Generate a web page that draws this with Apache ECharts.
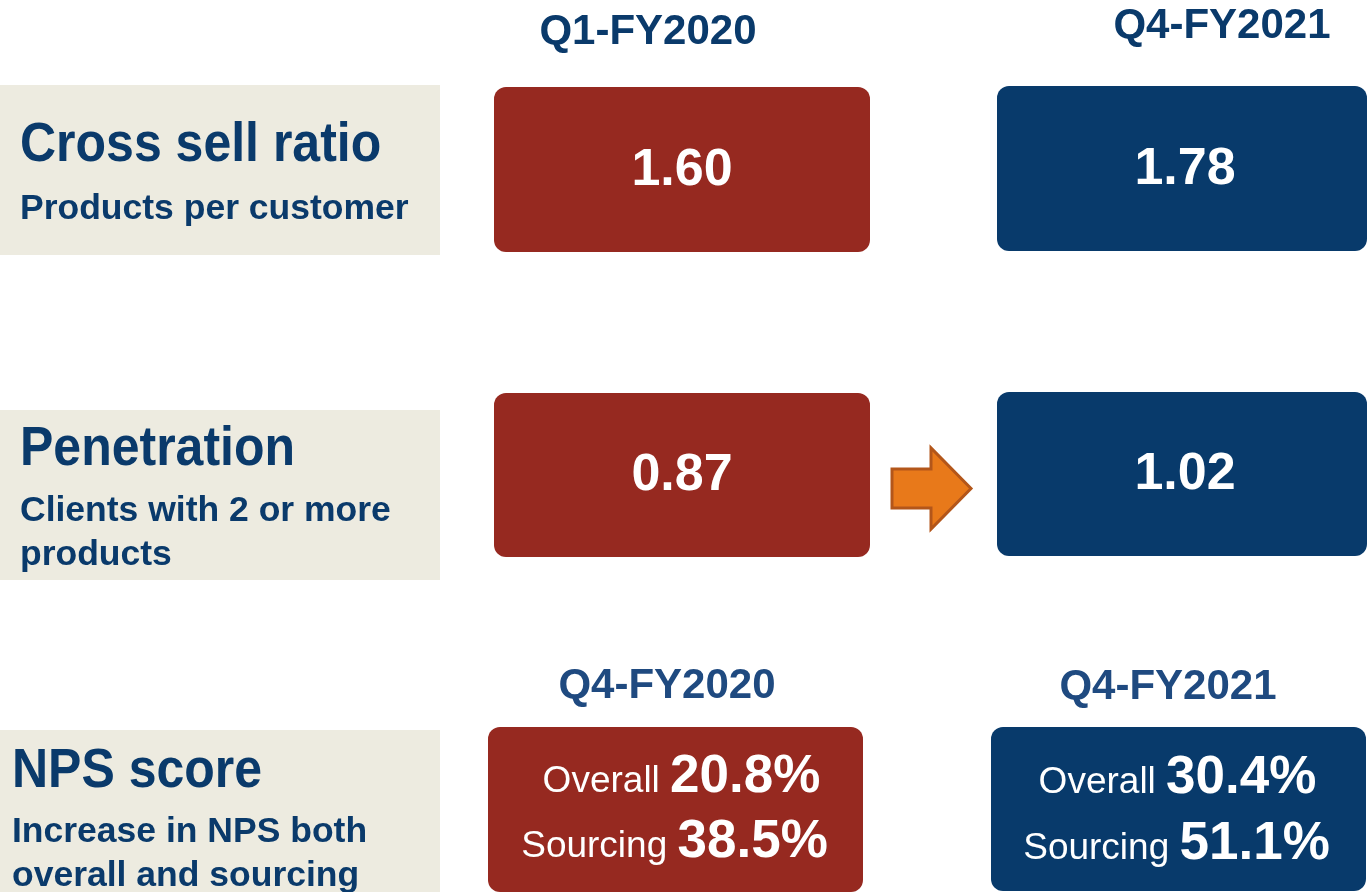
<!DOCTYPE html>
<html>
<head>
    <meta charset="utf-8" />
    <title>Cross sell, penetration and NPS</title>
    <style>
        html, body {
            margin: 0;
            padding: 0;
            background: #fff;
            overflow: hidden;
        }
        #main {
            width: 1368px;
            height: 892px;
        }
    </style>
    <script src="https://cdn.jsdelivr.net/npm/echarts@6/dist/echarts.min.js"></script>
</head>
<body>
    <div id="main"></div>
    <script>
        // data
        var metricTitles = ['Cross sell ratio', 'Penetration', 'NPS score'];
        var metricNotes = [
            ['Products per customer'],
            ['Clients with 2 or more', 'products'],
            ['Increase in NPS both', 'overall and sourcing']
        ];
        var periodsTop = ['Q1-FY2020', 'Q4-FY2021'];
        var periodsNps = ['Q4-FY2020', 'Q4-FY2021'];
        var ratioBefore = [1.60, 0.87];
        var ratioAfter = [1.78, 1.02];
        var npsLabels = ['Overall', 'Sourcing'];
        var npsBefore = [20.8, 38.5];
        var npsAfter = [30.4, 51.1];

        var FONT = '"Liberation Sans", Arial, Helvetica, sans-serif';
        var NAVY = '#0a3a6b';
        var RED = '#962920';
        var BLUE = '#083a6b';
        var BEIGE = '#edebe0';

        var measure = document.createElement('canvas').getContext('2d');
        function textWidth(str, weight, size) {
            measure.font = weight + ' ' + size + 'px ' + FONT;
            return measure.measureText(str).width;
        }

        // place the text's vertical middle relative to the wanted baseline
        function midY(baseline, size) {
            return baseline - 0.32 * size;
        }

        function text(str, x, y, size, weight, color, align, extra) {
            var el = {
                type: 'text',
                x: x,
                y: y,
                style: {
                    text: str,
                    fontFamily: FONT,
                    fontSize: size,
                    fontWeight: weight,
                    fill: color,
                    textAlign: align || 'left',
                    textVerticalAlign: 'middle'
                }
            };
            if (extra) {
                for (var k in extra) el[k] = extra[k];
            }
            return el;
        }

        function box(x, y, w, h, color) {
            return {
                type: 'rect',
                shape: { x: x, y: y, width: w, height: h, r: 12 },
                style: { fill: color }
            };
        }

        var els = [];

        // left label panels
        var panels = [
            { y: 85, h: 170, titleBase: 163, noteBase: [221], left: 20 },
            { y: 410, h: 170, titleBase: 467, noteBase: [523, 567], left: 20 },
            { y: 730, h: 170, titleBase: 789, noteBase: [844, 888], left: 12 }
        ];
        panels.forEach(function (p, i) {
            els.push({ type: 'rect', shape: { x: 0, y: p.y, width: 440, height: p.h }, style: { fill: BEIGE } });
            // headline face in the slide is taller than it is wide, so stretch it a bit
            els.push(text(metricTitles[i], p.left, midY(p.titleBase, 50 * 1.12), 50, 'bold', NAVY, 'left',
                { scaleY: 1.12, originX: 0, originY: 0 }));
            metricNotes[i].forEach(function (line, j) {
                els.push(text(line, p.left, midY(p.noteBase[j], 35.5), 35.5, 'bold', NAVY));
            });
        });

        // period headers
        els.push(text(periodsTop[0], 648, midY(46, 42), 42, 'bold', NAVY, 'center'));
        els.push(text(periodsTop[1], 1222, midY(40, 42), 42, 'bold', NAVY, 'center'));
        els.push(text(periodsNps[0], 667, midY(700, 42), 42, 'bold', '#1f4a80', 'center'));
        els.push(text(periodsNps[1], 1168, midY(701, 42), 42, 'bold', '#1f4a80', 'center'));

        // ratio boxes
        var ratioRows = [
            { red: [494, 87, 376, 165], blue: [997, 86, 370, 165] },
            { red: [494, 393, 376, 164], blue: [997, 392, 370, 164] }
        ];
        ratioRows.forEach(function (r, i) {
            els.push(box(r.red[0], r.red[1], r.red[2], r.red[3], RED));
            els.push(box(r.blue[0], r.blue[1], r.blue[2], r.blue[3], BLUE));
            els.push(text(ratioBefore[i].toFixed(2), r.red[0] + r.red[2] / 2, r.red[1] + r.red[3] / 2 + 1,
                52, 'bold', '#fff', 'center'));
            els.push(text(ratioAfter[i].toFixed(2), r.blue[0] + r.blue[2] / 2 + 3, r.blue[1] + r.blue[3] / 2 + 1,
                52, 'bold', '#fff', 'center'));
        });

        // arrow between the penetration boxes
        els.push({
            type: 'polygon',
            shape: {
                points: [[892, 469], [931, 469], [931, 448], [971, 488.5], [931, 529], [931, 508], [892, 508]]
            },
            style: { fill: '#e8791a', stroke: '#b3561a', lineWidth: 3, lineJoin: 'miter' }
        });

        // NPS boxes
        var npsBoxes = [
            { rect: [488, 727, 375, 165], color: RED, values: npsBefore, bases: [794, 859], shift: [6, -1] },
            { rect: [991, 727, 375, 164], color: BLUE, values: npsAfter, bases: [795, 861], shift: [-1, -2] }
        ];
        npsBoxes.forEach(function (b) {
            els.push(box(b.rect[0], b.rect[1], b.rect[2], b.rect[3], b.color));
            var cx = b.rect[0] + b.rect[2] / 2;
            npsLabels.forEach(function (lab, j) {
                var labStr = lab + ' ';
                var numStr = b.values[j].toFixed(1) + '%';
                var w1 = textWidth(labStr, 'normal', 37);
                var w2 = textWidth(numStr, 'bold', 53);
                var x0 = cx + b.shift[j] - (w1 + w2) / 2;
                els.push(text(labStr, x0, midY(b.bases[j], 37), 37, 'normal', '#fff'));
                els.push(text(numStr, x0 + w1, midY(b.bases[j], 53), 53, 'bold', '#fff'));
            });
        });

        var myChart = echarts.init(document.getElementById('main'), null, { renderer: 'canvas' });
        myChart.setOption({
            animation: false,
            graphic: { elements: els }
        });
    </script>
</body>
</html>
